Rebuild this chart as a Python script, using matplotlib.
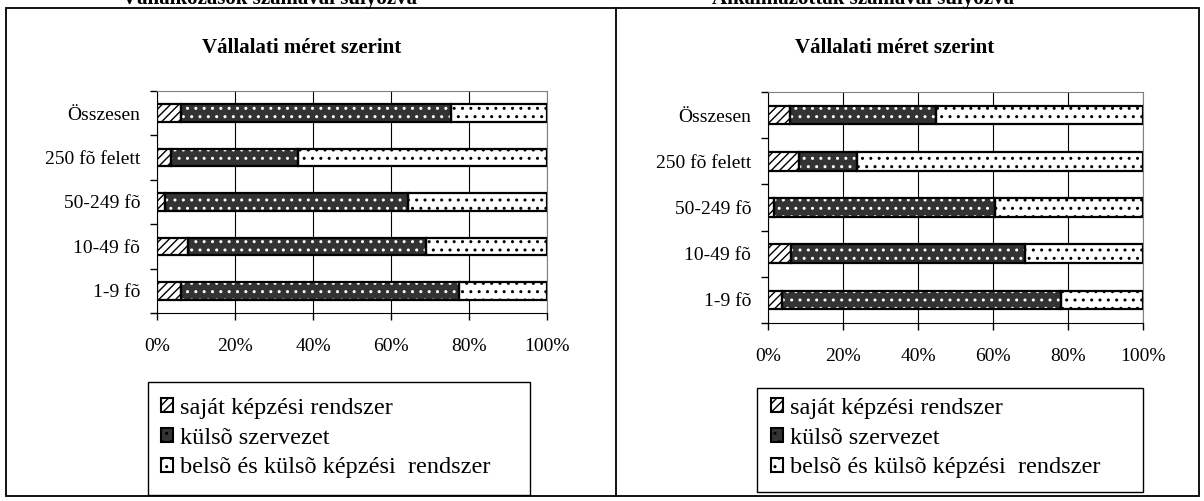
import matplotlib
matplotlib.use("Agg")
import matplotlib.pyplot as plt
from matplotlib.patches import Rectangle, Patch

plt.rcParams['font.family'] = ['Liberation Serif', 'DejaVu Serif']
plt.rcParams['hatch.linewidth'] = 1.0

# adatok (alulról felfelé)
kategoriak = ['1-9 fõ', '10-49 fõ', '50-249 fõ', '250 fõ felett', 'Összesen']
sorozatok = ['saját képzési rendszer', 'külsõ szervezet', 'belsõ és külsõ képzési  rendszer']

# vállalkozások számával súlyozva
sajat_v = [6.2, 7.9, 2.0, 3.6, 6.1]
kulso_v = [71.3, 61.2, 62.4, 32.6, 69.3]
belso_v = [22.5, 30.9, 35.6, 63.8, 24.6]

# alkalmazottak számával súlyozva
sajat_a = [3.7, 6.0, 1.5, 8.3, 5.8]
kulso_a = [74.5, 62.4, 58.9, 15.4, 38.9]
belso_a = [21.8, 31.6, 39.6, 76.3, 55.3]

xtick_ertekek = [0, 20, 40, 60, 80, 100]
xtick_cimkek = ['0%', '20%', '40%', '60%', '80%', '100%']

W, H = 1204, 501
fig = plt.figure(figsize=(W / 100, H / 100), dpi=100)


def fx(px):
    return px / W


def fy(py):
    return 1 - py / H


# stílusok: (kitöltés, mintaszín, minta)
stilusok = [('white', 'black', '////'),
            ('#333333', 'white', '..'),
            ('white', 'black', '..')]


def rajzol(ax, adatok):
    y = list(range(len(kategoriak)))
    bal = [0] * len(kategoriak)
    for sor, (fc, hc, ht) in zip(adatok, stilusok):
        ax.barh(y, sor, left=bal, height=0.4, color=fc, edgecolor=hc,
                hatch=ht, linewidth=0, zorder=2)
        ax.barh(y, sor, left=bal, height=0.4, fill=False,
                edgecolor='black', linewidth=1.6, zorder=3)
        bal = [b + s for b, s in zip(bal, sor)]
    ax.set_xlim(0, 100)
    ax.set_ylim(-0.5, len(kategoriak) - 0.5)
    ax.set_xticks(xtick_ertekek)
    ax.set_xticklabels(xtick_cimkek, fontsize=14)
    ax.set_yticks(y)
    ax.set_yticklabels(kategoriak, fontsize=14)
    ax.set_yticks([i - 0.5 for i in range(len(kategoriak) + 1)], minor=True)
    ax.tick_params(axis='y', which='major', length=0, pad=12)
    ax.tick_params(axis='y', which='minor', length=5, direction='out', width=1)
    ax.tick_params(axis='x', length=5, direction='out', width=1, pad=13)
    ax.xaxis.grid(True, color='black', linewidth=0.8)
    ax.set_axisbelow(True)
    for s in ['top', 'right']:
        ax.spines[s].set_color('#808080')
    for s in ['left', 'bottom']:
        ax.spines[s].set_color('black')


def normal(a, b, c):
    out = [[], [], []]
    for x, y, z in zip(a, b, c):
        t = x + y + z
        out[0].append(x / t * 100)
        out[1].append(y / t * 100)
        out[2].append(z / t * 100)
    return out


ax1 = fig.add_axes([fx(157), fy(313), fx(547 - 157), (313 - 91) / H])
rajzol(ax1, normal(sajat_v, kulso_v, belso_v))
ax2 = fig.add_axes([fx(768), fy(323), fx(1143 - 768), (323 - 92) / H])
rajzol(ax2, normal(sajat_a, kulso_a, belso_a))

# keretek
fig.patches.append(Rectangle((fx(6), fy(496)), fx(1199 - 6), (496 - 8) / H,
                             transform=fig.transFigure, fill=False,
                             edgecolor='black', linewidth=1.3))
fig.lines.append(plt.Line2D([fx(616), fx(616)], [fy(8), fy(496)],
                            transform=fig.transFigure, color='black', lw=1.3))

# felső (levágott) fejlécek
fig.text(fx(270), fy(4), 'Vállalkozások számával súlyozva', ha='center',
         va='baseline', fontsize=15, fontweight='bold')
fig.text(fx(863), fy(4), 'Alkalmazottak számával súlyozva', ha='center',
         va='baseline', fontsize=15, fontweight='bold')

# címek
fig.text(fx(302), fy(48), 'Vállalati méret szerint', ha='center',
         va='center', fontsize=15, fontweight='bold')
fig.text(fx(895), fy(48), 'Vállalati méret szerint', ha='center',
         va='center', fontsize=15, fontweight='bold')

# jelmagyarázatok
kezelok = [Patch(facecolor=fc, edgecolor='black', hatch=ht, linewidth=1.5)
           for fc, hc, ht in stilusok]
for (x0, y0, x1, y1), (lx, ly) in [((148, 382, 530, 495), (161, 398)),
                                    ((757, 388, 1143, 492), (771, 398))]:
    fig.patches.append(Rectangle((fx(x0), fy(y1)), fx(x1 - x0), (y1 - y0) / H,
                                 transform=fig.transFigure, fill=False,
                                 edgecolor='black', linewidth=1.0))
    fig.legend(kezelok, sorozatok, loc='upper left',
               bbox_to_anchor=(fx(lx), fy(ly)), frameon=False, fontsize=17.5,
               handlelength=0.5, handleheight=0.5, handletextpad=0.3,
               labelspacing=0.36, borderpad=0, borderaxespad=0)

fig.savefig('out.png', dpi=100, facecolor='white')
